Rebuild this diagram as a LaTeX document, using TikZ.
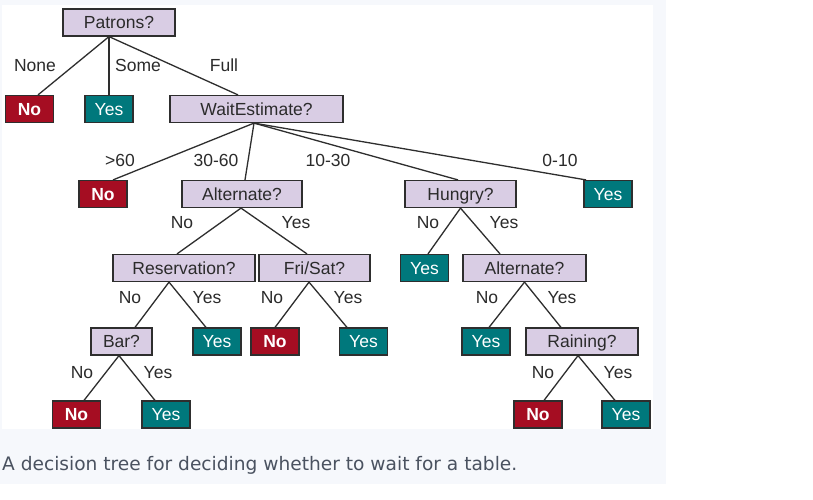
\documentclass[tikz,border=0pt]{standalone}
\usepackage{fontspec}
\setmainfont{Liberation Sans}
\newfontfamily\capfont{DejaVu Sans}
\definecolor{panel}{HTML}{F6F8FC}
\definecolor{lav}{HTML}{D9CDE4}
\definecolor{redleaf}{HTML}{A50D22}
\definecolor{tealleaf}{HTML}{00787C}
\definecolor{edgecol}{HTML}{2E2E2E}
\definecolor{txt}{HTML}{2B2B2B}
\definecolor{captxt}{HTML}{4A5260}
\tikzset{
  base/.style={draw=edgecol, line width=1.2pt, inner sep=0pt, minimum height=27pt,
    font=\fontsize{17.5}{20}\selectfont, text height=12.5pt, text depth=0pt},
  quest/.style={base, fill=lav, text=txt},
  nobox/.style={base, fill=redleaf, text=white, minimum width=48pt, font=\fontsize{17.5}{20}\selectfont\bfseries},
  yesbox/.style={base, fill=tealleaf, text=white, minimum width=48pt},
  lbl/.style={inner sep=0pt, text=txt, font=\fontsize{17.5}{20}\selectfont, text height=12.5pt, text depth=0pt},
  edge/.style={draw=edgecol, line width=1.3pt}
}
\begin{document}
\begin{tikzpicture}[x=1pt,y=-1pt]
\useasboundingbox (0,0) rectangle (813,499);
\fill[white] (0,0) rectangle (813,499);
\fill[panel] (0,0) rectangle (666,484);
\fill[white] (2,5) rectangle (653,429);
% question nodes
\node[quest, minimum width=112pt] (pat) at (119,22.5) {Patrons?};
\node[nobox] (no1) at (29.5,109) {No};
\node[yesbox] (yes1) at (109,109) {Yes};
\node[quest, minimum width=173pt] (wait) at (256.5,109) {WaitEstimate?};
\node[nobox] (no2) at (103,194) {No};
\node[quest, minimum width=120pt] (alt1) at (242,194) {Alternate?};
\node[quest, minimum width=111pt] (hun) at (460.5,194) {Hungry?};
\node[yesbox] (yes2) at (608,194) {Yes};
\node[quest, minimum width=142pt] (res) at (184,268) {Reservation?};
\node[quest, minimum width=111pt] (fri) at (314.5,268) {Fri/Sat?};
\node[yesbox] (yes6) at (424.5,268) {Yes};
\node[quest, minimum width=123pt] (alt2) at (524.5,268) {Alternate?};
\node[quest, minimum width=61pt] (bar) at (121.5,341.5) {Bar?};
\node[yesbox] (yes3) at (217,341.5) {Yes};
\node[nobox] (no3) at (275,341.5) {No};
\node[yesbox] (yes4) at (363.5,341.5) {Yes};
\node[yesbox] (yes7) at (486,341.5) {Yes};
\node[quest, minimum width=112pt] (rain) at (582,341.5) {Raining?};
\node[nobox] (no4) at (76.5,414.5) {No};
\node[yesbox] (yes5) at (166,414.5) {Yes};
\node[nobox] (no5) at (538,414.5) {No};
\node[yesbox] (yes8) at (626,414.5) {Yes};
% edges
\draw[edge] ([xshift=-10pt]pat.south) -- ([xshift=8.5pt]no1.north);
\draw[edge] ([xshift=-10pt]pat.south) -- (yes1.north);
\draw[edge] ([xshift=-10pt]pat.south) -- ([xshift=-18.5pt]wait.north);
\draw[edge] ([xshift=-2.5pt]wait.south) -- ([xshift=10pt]no2.north);
\draw[edge] ([xshift=-2.5pt]wait.south) -- ([xshift=3pt]alt1.north);
\draw[edge] ([xshift=-2.5pt]wait.south) -- ([xshift=-2.5pt]hun.north);
\draw[edge] ([xshift=-2.5pt]wait.south) -- ([xshift=-22pt]yes2.north);
\draw[edge] ([xshift=-1pt]alt1.south) -- ([xshift=-7pt]res.north);
\draw[edge] ([xshift=-1pt]alt1.south) -- ([xshift=-7.5pt]fri.north);
\draw[edge] ([xshift=-15pt]res.south) -- ([xshift=13.5pt]bar.north);
\draw[edge] ([xshift=-15pt]res.south) -- ([xshift=-11pt]yes3.north);
\draw[edge] ([xshift=-5.5pt]fri.south) -- (no3.north);
\draw[edge] ([xshift=-5.5pt]fri.south) -- ([xshift=-16.5pt]yes4.north);
\draw[edge] ([xshift=-2.5pt]bar.south) -- ([xshift=7.5pt]no4.north);
\draw[edge] ([xshift=-2.5pt]bar.south) -- ([xshift=-11pt]yes5.north);
\draw[edge] (hun.south) -- ([xshift=3.5pt]yes6.north);
\draw[edge] (hun.south) -- ([xshift=-24.5pt]alt2.north);
\draw[edge] (alt2.south) -- ([xshift=3pt]yes7.north);
\draw[edge] (alt2.south) -- ([xshift=-21pt]rain.north);
\draw[edge] ([xshift=-4pt]rain.south) -- ([xshift=6pt]no5.north);
\draw[edge] ([xshift=-4pt]rain.south) -- ([xshift=-11pt]yes8.north);
% labels
\node[lbl] (lnone) at (35,65) {None};
\node[lbl] (lsome) at (138,65) {Some};
\node[lbl] (lfull) at (224,65) {Full};
\node[lbl] (l60) at (120,160) {>60};
\node[lbl] (l3060) at (216,160) {30-60};
\node[lbl] (l1030) at (328,160) {10-30};
\node[lbl] (l010) at (560,160) {0-10};
\node[lbl] (la1n) at (182,222) {No};
\node[lbl] (la1y) at (296,222) {Yes};
\node[lbl] (lhn) at (428,222) {No};
\node[lbl] (lhy) at (504,222) {Yes};
\node[lbl] (lrn) at (130,297) {No};
\node[lbl] (lry) at (207,297) {Yes};
\node[lbl] (lfn) at (272,297) {No};
\node[lbl] (lfy) at (348,297) {Yes};
\node[lbl] (la2n) at (487,297) {No};
\node[lbl] (la2y) at (562,297) {Yes};
\node[lbl] (lbn) at (82,372) {No};
\node[lbl] (lby) at (158,372) {Yes};
\node[lbl] (lrnn) at (543,372) {No};
\node[lbl] (lrny) at (618,372) {Yes};
% caption
\node[anchor=base west, inner sep=0pt, text=captxt, font=\capfont\fontsize{18.6}{22}\selectfont] (cap) at (2,470) {A decision tree for deciding whether to wait for a table.};
\end{tikzpicture}
\end{document}
